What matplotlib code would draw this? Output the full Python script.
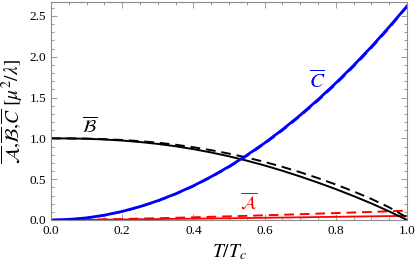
import matplotlib
matplotlib.use("Agg")
from matplotlib import pyplot as plt
from matplotlib.ticker import MultipleLocator
import numpy as np

plt.rcParams["font.family"] = ["Liberation Serif", "DejaVu Serif"]
plt.rcParams["mathtext.fontset"] = "stix"

# T/Tc grid
t = [0.0, 0.05, 0.1, 0.15, 0.2, 0.25, 0.3, 0.35, 0.4, 0.45, 0.5,
     0.55, 0.6, 0.65, 0.7, 0.75, 0.8, 0.85, 0.9, 0.95, 1.0]

# C bar (solid / dashed)
c_solid = [0.0, 0.007, 0.026, 0.059, 0.105, 0.164, 0.236, 0.321, 0.419, 0.531, 0.655,
           0.793, 0.943, 1.107, 1.284, 1.474, 1.677, 1.893, 2.122, 2.365, 2.62]
c_dash = [0.0, 0.006, 0.025, 0.057, 0.102, 0.160, 0.231, 0.315, 0.412, 0.523, 0.646,
          0.783, 0.932, 1.095, 1.271, 1.460, 1.662, 1.878, 2.106, 2.350, 2.61]

# B bar
b_solid = [1.0, 0.999, 0.995, 0.986, 0.973, 0.955, 0.932, 0.903, 0.868, 0.827, 0.78,
           0.727, 0.668, 0.603, 0.533, 0.458, 0.378, 0.293, 0.203, 0.105, 0.0]
b_dash = [1.0, 0.999, 0.997, 0.99, 0.98, 0.966, 0.947, 0.922, 0.891, 0.855, 0.813,
          0.765, 0.711, 0.651, 0.585, 0.513, 0.435, 0.35, 0.258, 0.155, 0.03]

# A bar
a_solid = [0.0, 0.0005, 0.002, 0.004, 0.006, 0.009, 0.011, 0.014, 0.016, 0.019, 0.021,
           0.024, 0.027, 0.030, 0.033, 0.036, 0.039, 0.042, 0.045, 0.048, 0.05]
a_dash = [0.0, 0.001, 0.004, 0.008, 0.012, 0.017, 0.022, 0.027, 0.033, 0.039, 0.045,
          0.051, 0.058, 0.064, 0.071, 0.078, 0.085, 0.092, 0.099, 0.107, 0.115]

fig = plt.figure(figsize=(4.15, 2.68), dpi=100)
ax = fig.add_axes([51 / 415, 1 - 220 / 268, 356 / 415, 218 / 268])

ax.plot(t, a_solid, color="red", lw=1.3)
ax.plot(t, a_dash, color="red", lw=1.4, dashes=(5, 3))
ax.plot(t, b_solid, color="black", lw=1.4)
ax.plot(t, b_dash, color="black", lw=1.4, dashes=(5, 3))
ax.plot(t, c_solid, color="blue", lw=2.0)
ax.plot(t, c_dash, color="blue", lw=1.4, dashes=(5, 3))

ax.text(0.107, 1.15, r"$\overline{\mathcal{B}}$", color="black", fontsize=13, ha="center", va="center")
ax.text(0.747, 1.70, r"$\overline{C}$", color="blue", fontsize=15, ha="center", va="center")
ax.text(0.555, 0.22, r"$\overline{\mathcal{A}}$", color="red", fontsize=13, ha="center", va="center")

ax.set_xlim(0, 1.0)
ax.set_ylim(0, 2.67)
ax.xaxis.set_major_locator(MultipleLocator(0.2))
ax.xaxis.set_minor_locator(MultipleLocator(0.05))
ax.yaxis.set_major_locator(MultipleLocator(0.5))
ax.yaxis.set_minor_locator(MultipleLocator(0.1))
ax.xaxis.set_major_formatter(lambda v, p: f"{v:.1f}")
ax.yaxis.set_major_formatter(lambda v, p: f"{v:.1f}")

ax.tick_params(which="both", direction="in", top=True, right=True, color="0.55",
               labelsize=9.5, width=0.6)
ax.tick_params(which="major", length=4)
ax.tick_params(which="minor", length=2)
for s in ax.spines.values():
    s.set_color("0.55")
    s.set_linewidth(0.8)

ax.set_xlabel(r"$T/T_c$", fontsize=14, labelpad=4)
ax.set_ylabel(r"$\overline{\mathcal{A}}{,}\overline{\mathcal{B}}{,}\overline{C}\ [\mu^2/\lambda]$",
              fontsize=14, labelpad=3)

fig.savefig("out.png", dpi=100)
